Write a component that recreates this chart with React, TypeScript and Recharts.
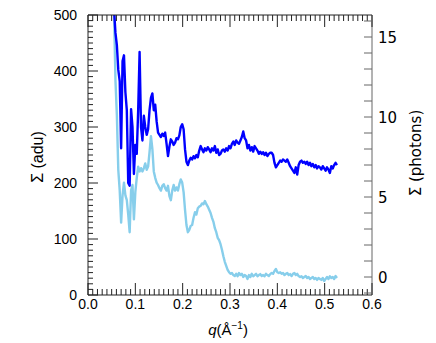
import React from 'react';
import { LineChart, Line, XAxis, YAxis } from 'recharts';

// q grid (Å^-1), sampled every 0.003 from 0.055
const qStart = 0.055;
const qStep = 0.003;
const qCount = 158;
const qValues = Array.from({ length: qCount }, (_, i) => +(qStart + i * qStep).toFixed(3));

// dark blue series, Σ (adu), left axis
const darkAdu = [
  510, 468, 446, 402, 382, 262, 418, 428, 362, 330,
  200, 195, 332, 300, 216, 268, 252, 330, 434, 300,
  276, 320, 300, 286, 296, 330, 352, 360, 330, 340,
  310, 290, 286, 282, 288, 284, 290, 270, 248, 265,
  278, 274, 268, 272, 280, 278, 285, 300, 305, 296,
  260, 238, 232, 240, 245, 242, 248, 244, 250, 246,
  258, 266, 260, 255, 262, 258, 264, 260, 255, 262,
  258, 266, 254, 260, 250, 252, 258, 260, 256, 262,
  258, 266, 262, 270, 274, 268, 276, 272, 270, 276,
  282, 292, 280, 276, 262, 268, 258, 264, 256, 266,
  262, 258, 252, 256, 252, 255, 250, 254, 248, 252,
  254, 254, 250, 236, 228, 232, 236, 240, 238, 242,
  240, 238, 242, 236, 230, 226, 222, 218, 228, 215,
  232, 238, 240, 236, 238, 234, 238, 232, 236, 230,
  234, 228, 232, 226, 230, 228, 224, 230, 226, 222,
  228, 224, 218, 230, 226, 232, 236, 232,
];

// light blue series, Σ (photons), right axis
const lightPhotons = [
  16.6, 12.3, 10.1, 6.7, 5.4, 3.4, 5.1, 5.9, 5.1, 4.8,
  3.9, 2.8, 5.4, 5.75, 3.6, 5.3, 6.2, 6.9, 6.6, 6.8,
  6.6, 6.8, 7.1, 6.7, 6.9, 7.8, 8.8, 8.0, 6.6, 6.2,
  5.9, 5.75, 5.55, 5.4, 5.7, 5.8, 5.55, 5.4, 5.7, 5.05,
  4.8, 5.4, 5.75, 5.4, 5.6, 5.4, 5.8, 6.1, 5.9, 5.3,
  4.2, 3.25, 2.8, 2.95, 3.2, 3.25, 3.7, 4.05, 3.9, 4.3,
  4.4, 4.45, 4.6, 4.55, 4.75, 4.55, 4.4, 4.2, 4.0, 3.7,
  3.45, 3.05, 2.8, 2.45, 2.3, 2.05, 1.7, 1.3, 0.95, 0.7,
  0.45, 0.3, 0.2, 0.25, 0.12, 0.06, 0.2, 0.05, 0.25, 0.12,
  0.2, 0.0, 0.12, 0.06, -0.12, 0.12, 0.0, 0.2, 0.05, 0.12,
  0.2, 0.05, 0.12, 0.18, 0.06, 0.12, 0.05, 0.2, 0.12, 0.06,
  0.18, 0.25, 0.2, 0.38, 0.5, 0.3, 0.25, 0.3, 0.2, 0.25,
  0.12, 0.2, 0.25, 0.12, 0.18, 0.06, 0.2, 0.25, 0.12, 0.2,
  0.06, 0.0, 0.05, -0.06, 0.0, 0.06, -0.06, 0.0, -0.12, -0.06,
  0.0, -0.12, -0.06, -0.18, -0.06, -0.12, -0.18, -0.06, -0.25, -0.12,
  0.0, -0.12, 0.05, -0.06, 0.0, -0.12, 0.06, -0.06,
];

// ticks
const xMajorTicks = [0, 0.1, 0.2, 0.3, 0.4, 0.5, 0.6];
const xAllTicks = Array.from({ length: 61 }, (_, i) => +(i * 0.01).toFixed(2));
const leftMajorTicks = [0, 100, 200, 300, 400, 500];
const leftAllTicks = Array.from({ length: 51 }, (_, i) => i * 10);
const rightMajorTicks = [0, 5, 10, 15];
const rightAllTicks = Array.from({ length: 18 }, (_, i) => i - 1);

const data = qValues.map((q, i) => ({ q, dark: darkAdu[i], light: lightPhotons[i] }));

const SANS = '"Liberation Sans", Arial, Helvetica, sans-serif';
const DEJAVU = '"DejaVu Sans", sans-serif';

const near = (arr: number[], v: number) => arr.some((m) => Math.abs(m - v) < 1e-9);

function BottomTick(props: any) {
  const { x, y, payload } = props;
  const v = payload.value;
  const major = near(xMajorTicks, v);
  return (
    <g>
      <line x1={x} x2={x} y1={y} y2={y - (major ? 12 : 6)} stroke="#222" strokeWidth={1} />
      {major && (
        <text x={x} y={y + 14} textAnchor="middle" fontFamily={SANS} fontSize={14} fill="#000">
          {v.toFixed(1)}
        </text>
      )}
    </g>
  );
}

function TopTick(props: any) {
  const { x, y, payload } = props;
  const major = near(xMajorTicks, payload.value);
  return <line x1={x} x2={x} y1={y} y2={y + (major ? 12 : 6)} stroke="#222" strokeWidth={1} />;
}

function LeftTick(props: any) {
  const { x, y, payload } = props;
  const v = payload.value;
  const major = near(leftMajorTicks, v);
  return (
    <g>
      <line x1={x} x2={x + (major ? 10 : 5)} y1={y} y2={y} stroke="#222" strokeWidth={1} />
      {major && (
        <text x={x - 11} y={y + 5} textAnchor="end" fontFamily={SANS} fontSize={14} fill="#000">
          {String(v)}
        </text>
      )}
    </g>
  );
}

function RightTick(props: any) {
  const { x, y, payload } = props;
  const v = payload.value;
  const major = near(rightMajorTicks, v);
  return (
    <g>
      <line x1={x} x2={x - 8} y1={y} y2={y} stroke="#666" strokeWidth={1} />
      {major && (
        <text x={x + 6} y={y + 5.5} textAnchor="start" fontFamily={DEJAVU} fontSize={15} fill="#000">
          {String(v)}
        </text>
      )}
    </g>
  );
}

function LeftLabel(props: any) {
  const vb = props.viewBox;
  const cx = vb.x + 15;
  const cy = vb.y + vb.height / 2 + 2;
  return (
    <text x={cx} y={cy} transform={`rotate(-90 ${cx} ${cy})`} textAnchor="middle" fontFamily={SANS} fontSize={16} fill="#000">
      Σ (adu)
    </text>
  );
}

function RightLabel(props: any) {
  const vb = props.viewBox;
  const cx = vb.x + 49;
  const cy = vb.y + vb.height / 2 - 2;
  return (
    <text x={cx} y={cy} transform={`rotate(-90 ${cx} ${cy})`} textAnchor="middle" fontFamily={DEJAVU} fontSize={15} fill="#000">
      Σ (photons)
    </text>
  );
}

function BottomLabel(props: any) {
  const vb = props.viewBox;
  const cx = vb.x + vb.width / 2 - 2;
  const cy = vb.y + 40;
  return (
    <text x={cx} y={cy} textAnchor="middle" fontFamily={SANS} fontSize={15} fill="#000">
      <tspan fontStyle="italic">q</tspan>
      <tspan>(Å</tspan>
      <tspan dy={-6} fontSize={10}>−1</tspan>
      <tspan dy={6}>)</tspan>
    </text>
  );
}

export default function App() {
  return (
    <div style={{ position: 'absolute', left: 0, top: 0, width: 436, height: 343, background: '#fff' }}>
      <LineChart width={436} height={343} data={data} margin={{ top: 14, right: 24, bottom: 18, left: 28 }}>
        <XAxis
          dataKey="q"
          type="number"
          domain={[0, 0.6]}
          ticks={xAllTicks}
          interval={0}
          tick={BottomTick}
          tickLine={false}
          tickSize={0}
          tickMargin={0}
          height={30}
          allowDataOverflow
          axisLine={{ stroke: '#222' }}
          label={{ content: BottomLabel }}
        />
        <XAxis
          xAxisId="top"
          orientation="top"
          dataKey="q"
          type="number"
          domain={[0, 0.6]}
          ticks={xAllTicks}
          interval={0}
          tick={TopTick}
          tickLine={false}
          tickSize={0}
          tickMargin={0}
          height={1}
          allowDataOverflow
          axisLine={{ stroke: '#222' }}
        />
        <YAxis
          yAxisId="left"
          orientation="left"
          type="number"
          domain={[0, 500]}
          ticks={leftAllTicks}
          interval={0}
          tick={LeftTick}
          tickLine={false}
          tickSize={0}
          tickMargin={0}
          width={60}
          allowDataOverflow
          axisLine={{ stroke: '#222' }}
          label={{ content: LeftLabel }}
        />
        <YAxis
          yAxisId="right"
          orientation="right"
          type="number"
          domain={[-1.125, 16.375]}
          ticks={rightAllTicks}
          interval={0}
          tick={RightTick}
          tickLine={false}
          tickSize={0}
          tickMargin={0}
          width={40}
          allowDataOverflow
          axisLine={{ stroke: '#666' }}
          label={{ content: RightLabel }}
        />
        <Line
          yAxisId="right"
          dataKey="light"
          stroke="#87ceeb"
          strokeWidth={2.4}
          dot={false}
          activeDot={false}
          isAnimationActive={false}
          strokeLinejoin="round"
        />
        <Line
          yAxisId="left"
          dataKey="dark"
          stroke="#0000ff"
          strokeWidth={2.4}
          dot={false}
          activeDot={false}
          isAnimationActive={false}
          strokeLinejoin="round"
        />
      </LineChart>
    </div>
  );
}
